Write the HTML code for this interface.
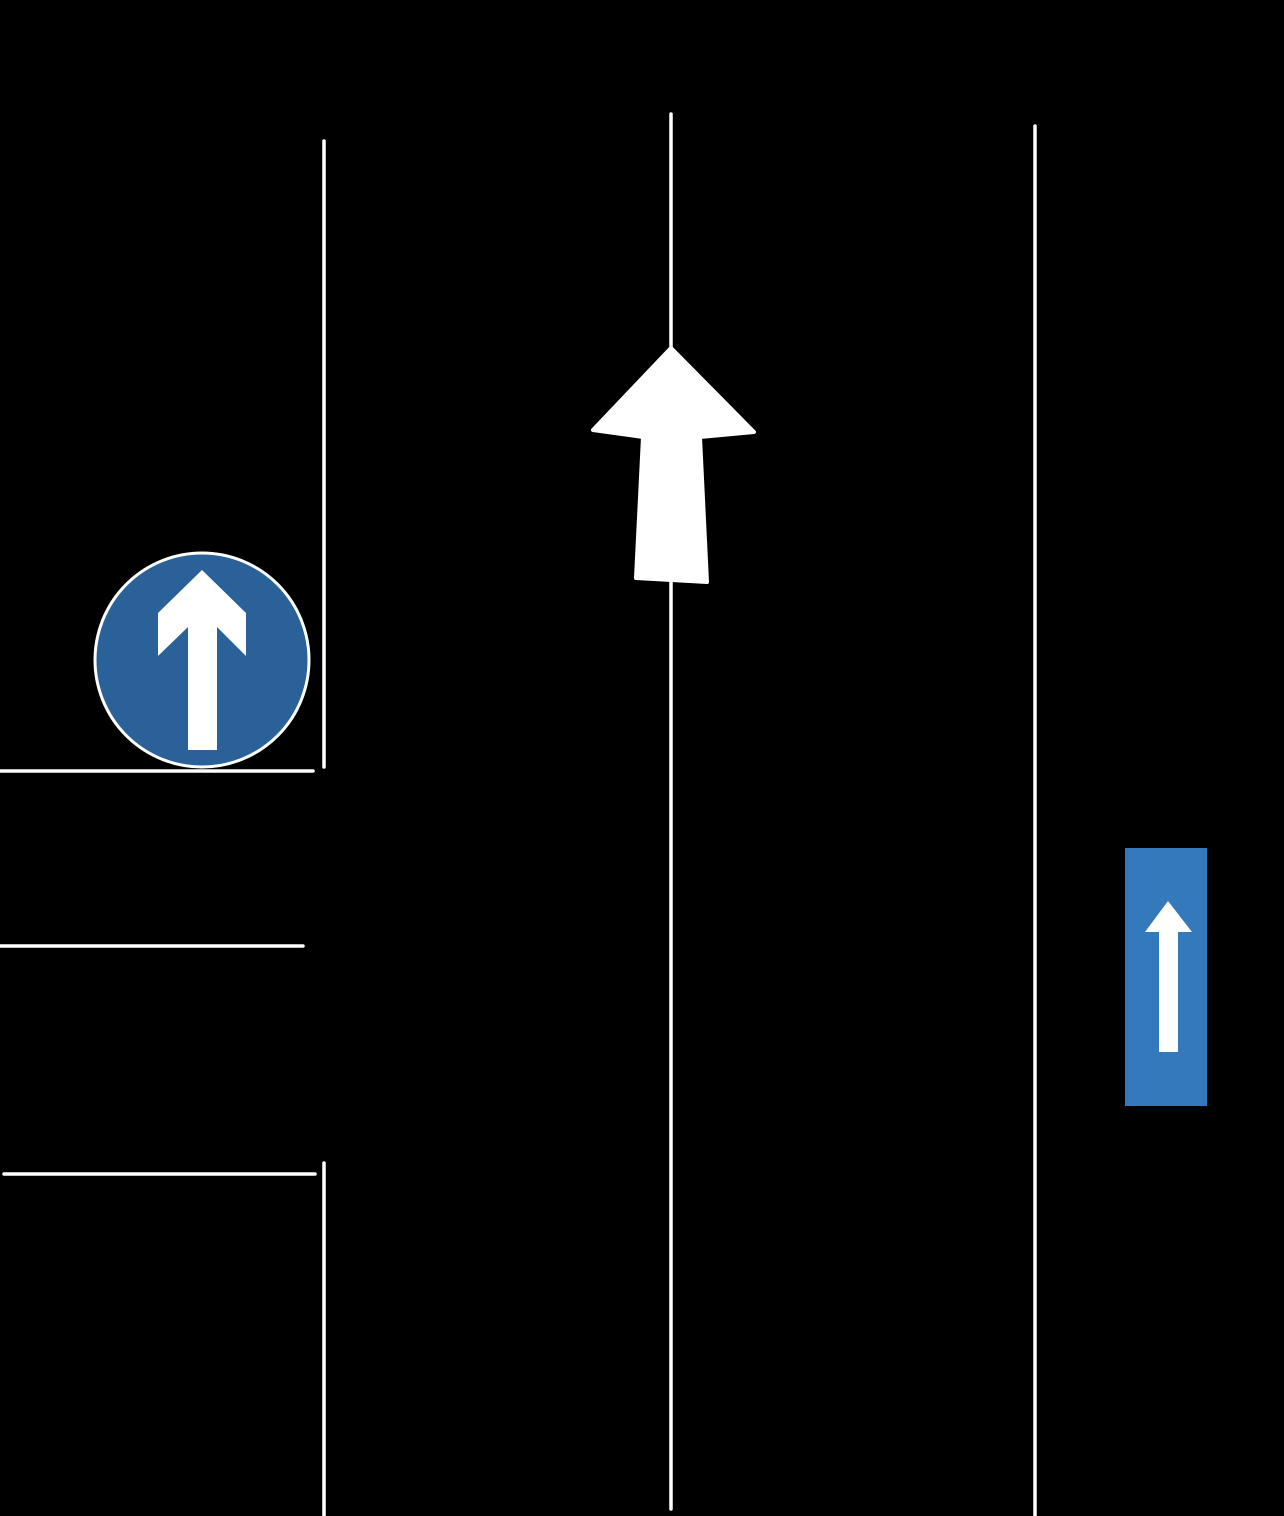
<!DOCTYPE html>
<html><head><meta charset="utf-8"><style>html,body{margin:0;padding:0;background:#000;}svg{display:block}</style></head>
<body>
<svg width="1284" height="1516" viewBox="0 0 1284 1516" xmlns="http://www.w3.org/2000/svg">
<rect width="1284" height="1516" fill="#000"/>
<g stroke="#fff" stroke-width="3.5" stroke-linecap="round" fill="none">
<line x1="324" y1="141" x2="324" y2="767"/>
<line x1="324" y1="1163" x2="324" y2="1516"/>
<line x1="671" y1="114" x2="671" y2="1509"/>
<line x1="1035" y1="126" x2="1035" y2="1516"/>
<line x1="0" y1="771" x2="313" y2="771"/>
<line x1="0" y1="946" x2="303" y2="946"/>
<line x1="4" y1="1174" x2="315" y2="1174"/>
</g>
<path d="M671 348 L754 432 L700 437 L707 582 L636 578 L643 437 L593 430 Z" fill="#fff" stroke="#fff" stroke-width="4" stroke-linejoin="round"/>
<circle cx="202" cy="660" r="107" fill="#2a6199" stroke="#fff" stroke-width="3"/>
<path d="M202 570 L246 613 L246 656 L217 627 L217 750 L188 750 L188 627 L158 656 L158 613 Z" fill="#fff"/>
<rect x="1125" y="848" width="82" height="258" fill="#3579bd"/>
<path d="M1168 901 L1192 932 L1178 932 L1178 1052 L1159 1052 L1159 932 L1145 932 Z" fill="#fff"/>
</svg>
</body></html>
